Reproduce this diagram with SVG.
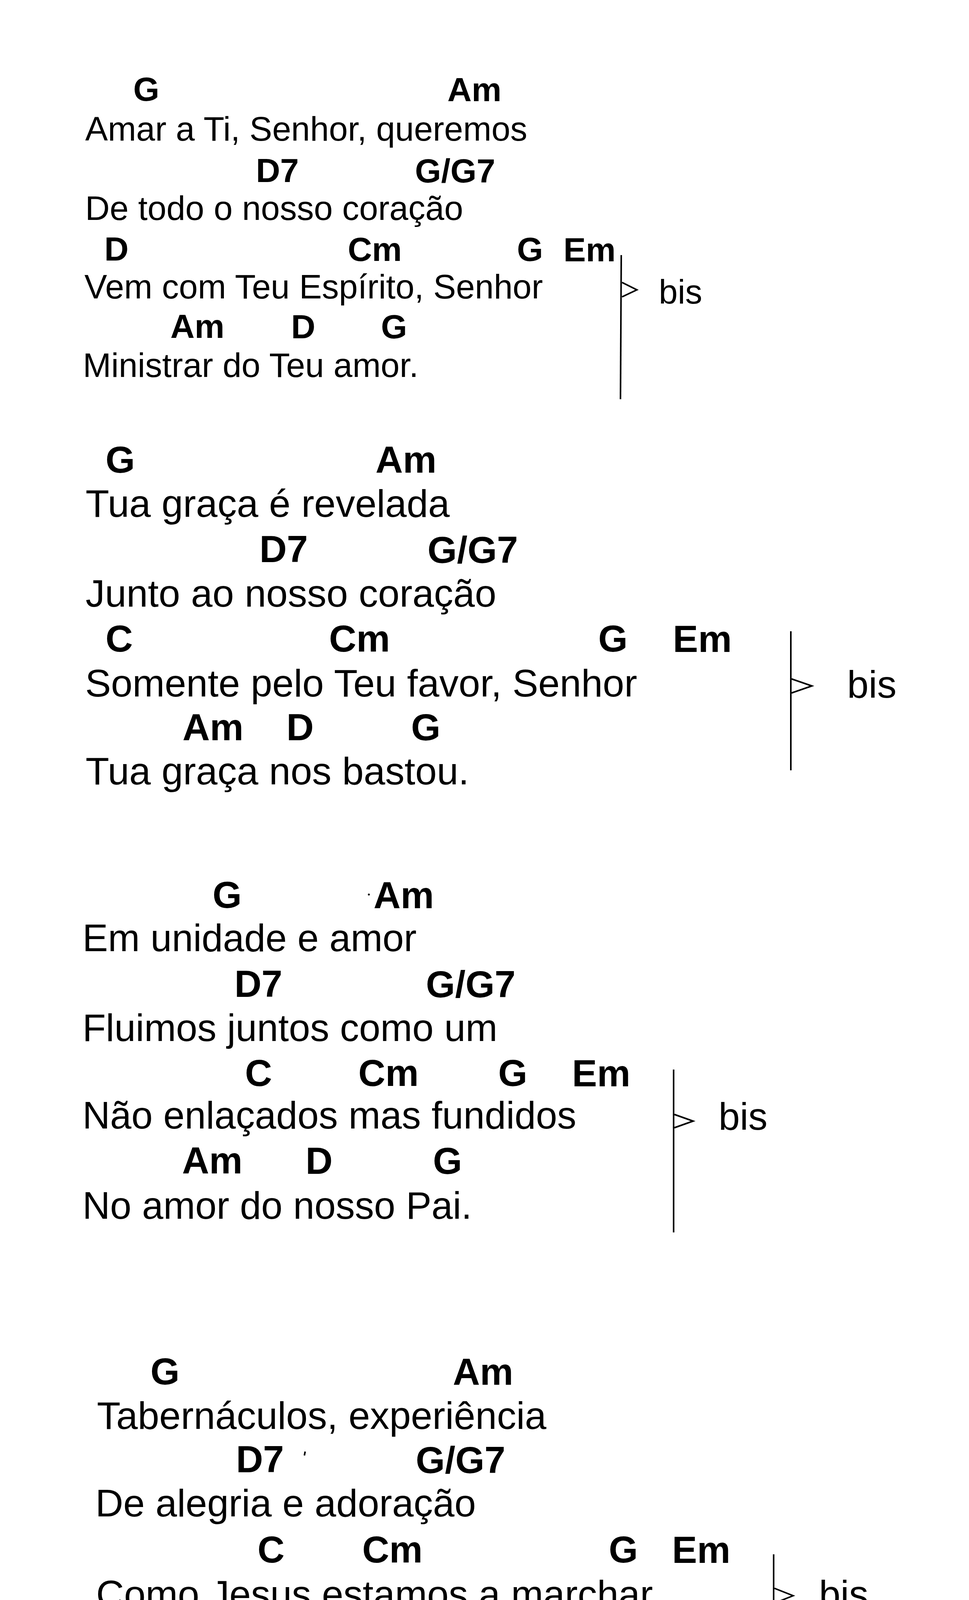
<svg xmlns="http://www.w3.org/2000/svg" width="2480" height="4724" viewBox="0 0 2480 4724">
<style>
text{font-family:"Liberation Sans",Arial,sans-serif;fill:#000}
.c1{font-size:86px;font-weight:bold}
.l1{font-size:87px}
.c2{font-size:97px;font-weight:bold}
.l2{font-size:99px}
.c3{font-size:96px;font-weight:bold}
.l3{font-size:98px}
.br{stroke:#000;stroke-width:4;fill:none}
</style>
<rect width="2480" height="4724" fill="#fff"/>
<g id="stanza1">
<text class="c1" x="341" y="258">G</text>
<text class="c1" x="1145" y="259">Am</text>
<text class="l1" x="218" y="360">Amar a Ti, Senhor, queremos</text>
<text class="c1" x="655" y="466">D7</text>
<text class="c1" x="1062" y="467">G/G7</text>
<text class="l1" x="218" y="563">De todo o nosso coração</text>
<text class="c1" x="267" y="667">D</text>
<text class="c1" x="890" y="668">Cm</text>
<text class="c1" x="1323" y="668">G</text>
<text class="c1" x="1442" y="669">Em</text>
<text class="l1" x="216" y="764">Vem com Teu Espírito, Senhor</text>
<text class="l1" x="1686" y="777">bis</text>
<text class="c1" x="436" y="865">Am</text>
<text class="c1" x="745" y="866">D</text>
<text class="c1" x="975" y="866">G</text>
<text class="l1" x="212" y="965">Ministrar do Teu amor.</text>
</g>
<g id="stanza2">
<text class="c2" x="270" y="1210">G</text>
<text class="c2" x="961" y="1210">Am</text>
<text class="l2" x="219" y="1323">Tua graça é revelada</text>
<text class="c2" x="664" y="1439">D7</text>
<text class="c2" x="1094" y="1441">G/G7</text>
<text class="l2" x="219" y="1553">Junto ao nosso coração</text>
<text class="c2" x="270" y="1668">C</text>
<text class="c2" x="842" y="1668">Cm</text>
<text class="c2" x="1531" y="1668">G</text>
<text class="c2" x="1722" y="1669">Em</text>
<text class="l2" x="218" y="1783">Somente pelo Teu favor, Senhor</text>
<text class="l2" x="2168" y="1786">bis</text>
<text class="c2" x="467" y="1895">Am</text>
<text class="c2" x="733" y="1895">D</text>
<text class="c2" x="1052" y="1895">G</text>
<text class="l2" x="219" y="2008">Tua graça nos bastou.</text>
</g>
<g id="stanza3">
<text class="c3" x="544" y="2324">G</text>
<text class="c3" x="956" y="2325">Am</text>
<text class="l3" x="211" y="2435">Em unidade e amor</text>
<text class="c3" x="600" y="2552">D7</text>
<text class="c3" x="1090" y="2553">G/G7</text>
<text class="l3" x="211" y="2665">Fluimos juntos como um</text>
<text class="c3" x="627" y="2780">C</text>
<text class="c3" x="917" y="2780">Cm</text>
<text class="c3" x="1275" y="2780">G</text>
<text class="c3" x="1464" y="2781">Em</text>
<text class="l3" x="211" y="2889">Não enlaçados mas fundidos</text>
<text class="l3" x="1839" y="2892">bis</text>
<text class="c3" x="466" y="3004">Am</text>
<text class="c3" x="782" y="3005">D</text>
<text class="c3" x="1108" y="3005">G</text>
<text class="l3" x="211" y="3120">No amor do nosso Pai.</text>
<circle cx="944" cy="2290" r="2.5" fill="#000"/>
</g>
<g id="stanza4">
<text class="c3" x="385" y="3544">G</text>
<text class="c3" x="1159" y="3545">Am</text>
<text class="l2" x="248" y="3658">Tabernáculos, experiência</text>
<text class="c3" x="604" y="3769">D7</text>
<text class="c3" x="1064" y="3771">G/G7</text>
<text class="l2" x="244" y="3882">De alegria e adoração</text>
<text class="c3" x="659" y="4000">C</text>
<text class="c3" x="927" y="4000">Cm</text>
<text class="c3" x="1558" y="4000">G</text>
<text class="c3" x="1720" y="4001">Em</text>
<text class="l2" x="246" y="4115">Como Jesus estamos a marchar</text>
<text class="l2" x="2096" y="4115">bis</text>
<text class="c3" x="609" y="4228">Am</text>
<text class="c3" x="980" y="4228">D</text>
<text class="c3" x="1140" y="4228">G</text>
<text class="l2" x="244" y="4340">Para o coração do Pai.</text>
<path d="M781 3716 L779 3726" stroke="#000" stroke-width="4"/>
</g>
<g id="connectors">
<line class="br" x1="1590" y1="653" x2="1588" y2="1022"/>
<polyline class="br" points="1592,723 1630,742 1592,760"/>
<line class="br" x1="2024" y1="1616" x2="2024" y2="1972"/>
<polyline class="br" points="2026,1738 2078,1756 2026,1774"/>
<line class="br" x1="1724" y1="2738" x2="1724" y2="3155"/>
<polyline class="br" points="1726,2853 1774,2870 1726,2887"/>
<line class="br" x1="1980" y1="3979" x2="1980" y2="4333"/>
<polyline class="br" points="1982,4066 2030,4085 1982,4104"/>
</g>
</svg>
